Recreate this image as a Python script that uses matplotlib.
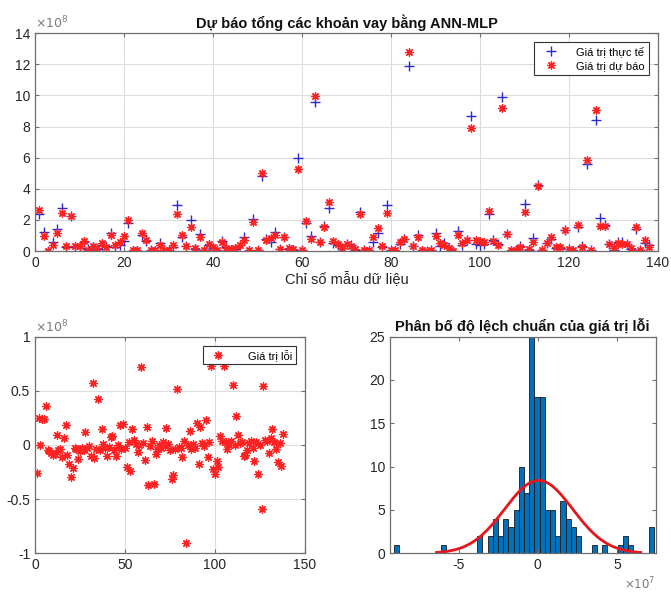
import numpy as np
import matplotlib
matplotlib.use("Agg")
import matplotlib.pyplot as plt
from matplotlib.ticker import FuncFormatter, MultipleLocator

plt.rcParams['font.family'] = ['Liberation Sans', 'DejaVu Sans']
plt.rcParams['axes.unicode_minus'] = False

# chi so mau 1..138, gia tri tinh theo don vi 1e8
sample_idx = list(range(1, 139))

pred = [
    2.65, 0.98, 0.02, 0.37, 1.15, 2.42, 0.32, 2.28, 0.32, 0.30,
    0.65, 0.06, 0.32, 0.18, 0.50, 0.27, 1.00, 0.37, 0.55, 0.96,
    2.02, 0.06, 0.06, 1.13, 0.70, 0.06, 0.06, 0.37, 0.06, 0.04,
    0.37, 2.37, 1.05, 0.33, 1.57, 0.20, 0.92, 0.06, 0.42, 0.27,
    0.08, 0.60, 0.20, 0.10, 0.20, 0.37, 0.70, 0.06, 1.85, 0.06,
    5.00, 0.72, 0.85, 1.05, 0.10, 0.90, 0.17, 0.10, 5.27, 0.06,
    1.95, 0.80, 9.97, 0.60, 1.55, 3.12, 0.62, 0.45, 0.20, 0.45,
    0.35, 0.10, 2.37, 0.06, 0.06, 0.90, 1.45, 0.30, 2.42, 0.06,
    0.06, 0.55, 0.75, 12.77, 0.35, 0.92, 0.06, 0.02, 0.06, 0.98,
    0.50, 0.37, 0.20, 0.03, 1.03, 0.50, 0.70, 7.92, 0.70, 0.65,
    0.60, 2.60, 0.65, 0.40, 9.17, 1.08, 0.06, 0.06, 0.27, 2.48,
    0.10, 0.55, 4.15, 0.06, 0.50, 0.90, 0.27, 0.27, 1.35, 0.10,
    0.06, 1.70, 0.27, 5.87, 0.06, 9.03, 1.60, 1.62, 0.42, 0.17,
    0.50, 0.42, 0.45, 0.17, 1.55, 0.06, 0.72, 0.27,
]

err = [
    -0.26, 0.245, 0.0, 0.238, 0.235, 0.355, -0.045, -0.06, -0.07, -0.095,
    -0.08, 0.09, -0.05, -0.035, -0.11, 0.06, 0.185, -0.09, -0.18, -0.30,
    -0.21, -0.03, -0.04, -0.13, -0.06, -0.025, -0.045, 0.12, -0.03, -0.01,
    -0.10, 0.575, -0.125, -0.04, 0.42, -0.05, 0.15, 0.005, -0.03, -0.10,
    -0.015, 0.07, 0.08, -0.045, -0.10, 0.0, 0.18, -0.035, 0.19, -0.025,
    -0.20, 0.03, -0.245, 0.145, 0.05, 0.008, -0.065, -0.005, 0.72, 0.02,
    -0.14, 0.17, -0.37, -0.012, 0.035, -0.365, -0.08, -0.04, 0.003, -0.03,
    0.025, -0.008, 0.16, 0.005, -0.045, -0.31, -0.28, -0.035, 0.52, -0.015,
    -0.03, -0.115, 0.04, -0.907, 0.0, 0.13, -0.04, 0.006, -0.025, 0.20,
    -0.175, 0.17, 0.02, -0.01, 0.23, -0.11, 0.03, 0.725, -0.225, -0.265,
    -0.145, -0.20, 0.085, 0.035, 0.732, 0.025, -0.035, 0.0, 0.04, 0.55,
    -0.005, 0.265, 0.09, 0.02, 0.03, -0.10, -0.09, -0.045, 0.02, 0.035,
    -0.03, -0.145, 0.025, -0.27, 0.004, -0.595, 0.54, 0.05, 0.04, -0.075,
    0.06, 0.15, 0.03, -0.04, -0.16, 0.015, -0.195, 0.10,
]

x = np.array(sample_idx)
y_pred = np.array(pred) * 1e8
e = np.array(err) * 1e8
y_true = y_pred + e

blue = '#2b2bd0'
red = '#ff2222'
txt = '#262626'
spine_c = '#6e6e6e'
star = (8, 2, 0)   # asterisk kieu matlab


def style(ax, grid=True):
    for s in ax.spines.values():
        s.set_color(spine_c)
        s.set_linewidth(0.9)
    ax.tick_params(direction='in', top=True, right=True, length=3,
                   width=0.8, color=spine_c, labelcolor=txt, labelsize=10)
    if grid:
        ax.grid(True, color='#dcdcdc', linewidth=0.8)
        ax.set_axisbelow(True)


def sci(ax, axis, p):
    # nhan truc dang matlab: so nho + chu x10^p o goc
    axis.set_major_formatter(FuncFormatter(lambda v, _: '%g' % round(v / 10 ** p, 6)))
    lab = r'$\times 10^{%d}$' % p
    if axis is ax.yaxis:
        ax.text(0.0, 1.008, lab, transform=ax.transAxes, ha='left', va='bottom',
                fontsize=9, color='#7a7a7a')
    else:
        ax.text(1.0, -0.105, lab, transform=ax.transAxes, ha='right', va='top',
                fontsize=8.5, color='#7a7a7a')


fig = plt.figure(figsize=(6.71, 5.92), dpi=100)

# du bao vs thuc te
ax1 = fig.add_axes([0.0522, 0.576, 0.9285, 0.368])
ax1.plot(x, y_true, '+', color=blue, markersize=7, mew=1.0, label='Giá trị thực tế')
ax1.plot(x, y_pred, marker=star, ls='none', color=red, markersize=6, mew=0.9,
         label='Giá trị dự báo')
ax1.set_xlim(0, 140)
ax1.set_ylim(0, 14e8)
ax1.xaxis.set_major_locator(MultipleLocator(20))
ax1.yaxis.set_major_locator(MultipleLocator(2e8))
sci(ax1, ax1.yaxis, 8)
style(ax1)
ax1.set_title('Dự báo tổng các khoản vay bằng ANN-MLP', fontsize=10.5,
              fontweight='bold', color='#111111', pad=4)
ax1.set_xlabel('Chỉ số mẫu dữ liệu', fontsize=10.5, color=txt, labelpad=1)
leg = ax1.legend(loc='upper right', fontsize=8, fancybox=False, framealpha=1,
                 edgecolor='#333333', handlelength=2.2, handletextpad=1.2,
                 borderpad=0.4, labelspacing=0.3, borderaxespad=0.8)
leg.get_frame().set_linewidth(0.8)

# gia tri loi
ax2 = fig.add_axes([0.0522, 0.0654, 0.402, 0.366])
ax2.plot(x, e, marker=star, ls='none', color=red, markersize=6, mew=0.9,
         label='Giá trị lỗi')
ax2.set_xlim(0, 150)
ax2.set_ylim(-1e8, 1e8)
ax2.xaxis.set_major_locator(MultipleLocator(50))
ax2.yaxis.set_major_locator(MultipleLocator(0.5e8))
sci(ax2, ax2.yaxis, 8)
style(ax2)
leg2 = ax2.legend(loc='upper right', fontsize=8, fancybox=False, framealpha=1,
                  edgecolor='#333333', handlelength=2.2, handletextpad=1.6,
                  borderpad=0.3, borderaxespad=0.8)
leg2.get_frame().set_linewidth(0.8)

# phan bo loi + duong chuan
ax3 = fig.add_axes([0.581, 0.0654, 0.396, 0.366])
counts, edges, _ = ax3.hist(e, bins=50, color=(0, 0.447, 0.741),
                            edgecolor='#1a1a1a', linewidth=0.6)
mu = e.mean()
sigma = e.std(ddof=1)
bw = edges[1] - edges[0]
xs = np.linspace(mu - 3 * sigma, mu + 3 * sigma, 200)
pdf = np.exp(-0.5 * ((xs - mu) / sigma) ** 2) / (sigma * np.sqrt(2 * np.pi))
ax3.plot(xs, len(e) * bw * pdf, color='#e8161b', linewidth=2)
ax3.set_xlim(-9.33e7, 7.42e7)
ax3.set_ylim(0, 25)
ax3.xaxis.set_major_locator(MultipleLocator(5e7))
ax3.yaxis.set_major_locator(MultipleLocator(5))
sci(ax3, ax3.xaxis, 7)
style(ax3, grid=False)
ax3.set_title('Phân bố độ lệch chuẩn của giá trị lỗi', fontsize=10.5,
              fontweight='bold', color='#111111', pad=4)

fig.savefig('out.png', dpi=100)
